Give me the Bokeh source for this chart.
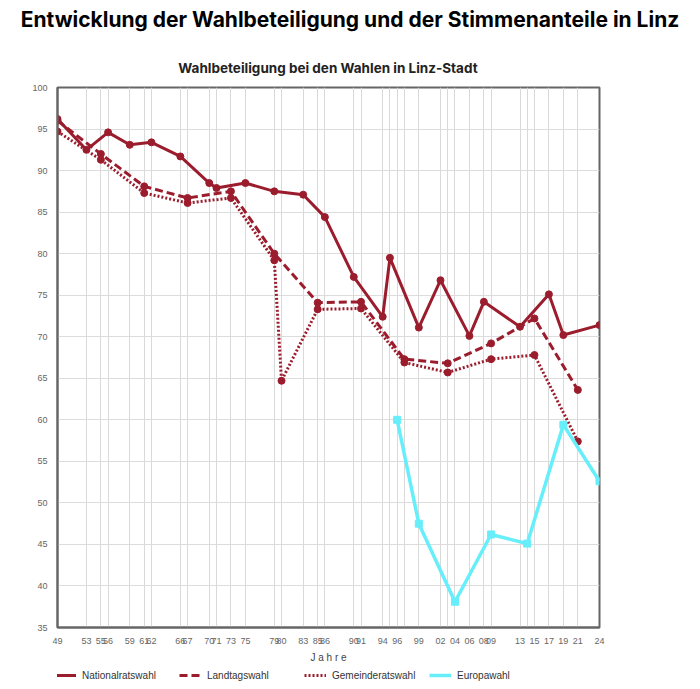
from bokeh.plotting import figure
from bokeh.layouts import column
from bokeh.models import Div, FixedTicker, Legend, LegendItem, Range1d
from bokeh.embed import file_html
from bokeh.resources import INLINE

# Wahlbeteiligung in Linz-Stadt (Prozent)
nr_years = [1949, 1953, 1956, 1959, 1962, 1966, 1970, 1971, 1975, 1979, 1983, 1986,
            1990, 1994, 1995, 1999, 2002, 2006, 2008, 2013, 2017, 2019, 2024]
nr_vals = [96.2, 92.5, 94.6, 93.1, 93.4, 91.7, 88.5, 87.9, 88.5, 87.5, 87.1, 84.4,
           77.2, 72.4, 79.5, 71.1, 76.8, 70.1, 74.2, 71.2, 75.1, 70.2, 71.4]

lt_years = [1949, 1955, 1961, 1967, 1973, 1979, 1985, 1991, 1997, 2003, 2009, 2015, 2021]
lt_vals = [96.0, 92.0, 88.1, 86.7, 87.5, 80.0, 74.1, 74.2, 67.3, 66.8, 69.2, 72.2, 63.6]

gr_years = [1949, 1955, 1961, 1967, 1973, 1979, 1980, 1985, 1991, 1997, 2003, 2009, 2015, 2021]
gr_vals = [94.7, 91.3, 87.3, 86.1, 86.7, 79.2, 64.7, 73.3, 73.4, 66.9, 65.7, 67.3, 67.8, 57.4]

eu_years = [1996, 1999, 2004, 2009, 2014, 2019, 2024]
eu_vals = [60.0, 47.5, 38.1, 46.2, 45.1, 59.4, 52.6]

# years shown on the axis; the others only get a grid line
labelled_years = [1949, 1953, 1955, 1956, 1959, 1961, 1962, 1966, 1967, 1970, 1971, 1973,
                  1975, 1979, 1980, 1983, 1985, 1986, 1990, 1991, 1994, 1996, 1999, 2002,
                  2004, 2006, 2008, 2009, 2013, 2015, 2017, 2019, 2021, 2024]
all_years = sorted(set(nr_years + lt_years + gr_years + eu_years + labelled_years))

series_names = ["Nationalratswahl", "Landtagswahl", "Gemeinderatswahl", "Europawahl"]
TITLE = "Entwicklung der Wahlbeteiligung und der Stimmenanteile in Linz"
SUBTITLE = "Wahlbeteiligung bei den Wahlen in Linz-Stadt"

RED = "#9b1d2d"
CYAN = "#66eefa"
TICK_FONT = "Liberation Sans"
HEAD_FONT = "Inter"

SERIES = [(nr_years, nr_vals), (lt_years, lt_vals), (gr_years, gr_vals), (eu_years, eu_vals)]
STYLES = [dict(line_color=RED, line_width=3),
          dict(line_color=RED, line_width=3, line_dash="8 4"),
          dict(line_color=RED, line_width=3, line_dash="2 2"),
          dict(line_color=CYAN, line_width=3.5)]

# --- headings ---------------------------------------------------------------
head = Div(
    text=(
        '<div style="position:relative;width:700px;height:80px;">'
        f'<div style="position:absolute;left:0;top:7px;width:700px;text-align:center;'
        f'font-family:{HEAD_FONT};font-weight:bold;font-size:21px;line-height:26px;'
        f'color:#000000;white-space:nowrap;">{TITLE}</div>'
        f'<div style="position:absolute;left:0;top:59px;width:656px;text-align:center;'
        f'font-family:{HEAD_FONT};font-weight:bold;font-size:13.5px;line-height:18px;'
        f'color:#222222;white-space:nowrap;">{SUBTITLE}</div>'
        '</div>'
    ),
    width=700, height=80, margin=0)

# --- chart ------------------------------------------------------------------
p = figure(width=700, height=585, output_backend="svg", toolbar_location=None,
           x_range=Range1d(1949, 2024), y_range=Range1d(35, 100),
           min_border_left=57, min_border_right=101, min_border_top=7,
           min_border_bottom=36)

p.outline_line_color = "#666666"
p.outline_line_width = 2

p.xaxis.ticker = FixedTicker(ticks=all_years)
p.xaxis.major_label_overrides = {
    y: (str(y)[2:] if y in labelled_years else "") for y in all_years
}
p.yaxis.ticker = FixedTicker(ticks=list(range(35, 101, 5)))
for ax in (p.xaxis, p.yaxis):
    ax.axis_line_color = "#666666"
    ax.axis_line_width = 2
    ax.major_tick_line_color = None
    ax.minor_tick_line_color = None
    ax.major_label_text_font = TICK_FONT
    ax.major_label_text_font_size = "9px"
    ax.major_label_text_color = "#666666"
    ax.major_label_standoff = 4
p.xaxis.axis_label = "J a h r e"
p.xaxis.axis_label_text_font = TICK_FONT
p.xaxis.axis_label_text_font_size = "10px"
p.xaxis.axis_label_text_font_style = "normal"
p.xaxis.axis_label_text_color = "#444444"
p.xaxis.axis_label_standoff = 5

p.xgrid.ticker = FixedTicker(ticks=all_years)
p.ygrid.ticker = FixedTicker(ticks=list(range(35, 101, 5)))
p.xgrid.grid_line_color = "#d9d9d9"
p.ygrid.grid_line_color = "#dcdcdc"

for (xs, ys), style in zip(SERIES, STYLES):
    p.line(xs, ys, **style)
    marker = "square" if style["line_color"] == CYAN else "circle"
    p.scatter(xs, ys, size=7, marker=marker, color=style["line_color"])

# --- legend strip (its frame lines up with the chart frame) ------------------
# the series are repeated here only to feed the legend swatches; the strip's
# range keeps the lines themselves out of view
leg = figure(width=700, height=24, output_backend="svg", toolbar_location=None,
             x_axis_location=None, y_axis_location=None,
             x_range=Range1d(0, 1), y_range=Range1d(0, 1),
             min_border_left=57, min_border_right=101, min_border_top=0,
             min_border_bottom=0)
leg.outline_line_color = None
leg.grid.visible = False
for i, (name, (xs, ys), style) in enumerate(zip(series_names, SERIES, STYLES)):
    r = leg.line(xs, ys, **style)
    leg.add_layout(Legend(items=[LegendItem(label=name, renderers=[r])],
                          location=(-3 + 125 * i, 6), orientation="horizontal",
                          padding=0, margin=0, spacing=0,
                          glyph_width=22, glyph_height=16, label_height=16,
                          label_standoff=6, label_text_font=TICK_FONT,
                          label_text_font_size="10px", label_text_color="#333333",
                          background_fill_alpha=0, border_line_color=None), "center")

layout = column(head, p, leg, spacing=0)
open("out.html", "w").write(file_html(layout, INLINE))
